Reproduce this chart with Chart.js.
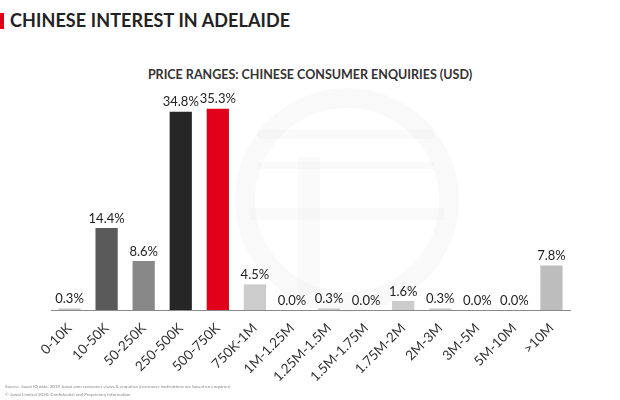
<!DOCTYPE html>
<html>
<head>
<meta charset="utf-8">
<script src="https://cdn.jsdelivr.net/npm/chart.js@4.4.1/dist/chart.umd.min.js"></script>
<style>
  body { margin: 0; background: #fff; font-family: Lato, "Open Sans", sans-serif; }
  #wrap { position: relative; width: 620px; height: 400px; overflow: hidden; }
  #chart { position: absolute; left: 0; top: 0; }
  .head { position: absolute; left: 10px; top: 9px; font-size: 18px; font-weight: 700; color: #222; letter-spacing: 0.1px; }
  .redmark { position: absolute; left: 0; top: 13px; width: 4px; height: 16px; background: #e1001a; }
  .sub { position: absolute; left: 0; width: 620px; top: 67px; text-align: center; font-size: 12.5px; font-weight: 700; color: #333; }
  .foot { position: absolute; left: 5px; font-size: 4.5px; color: #888; }
</style>
</head>
<body>
<div id="wrap">
  <div class="redmark"></div>
  <div class="head">CHINESE INTEREST IN ADELAIDE</div>
  <div class="sub">PRICE RANGES: CHINESE CONSUMER ENQUIRIES (USD)</div>
  <canvas id="chart" width="620" height="400"></canvas>
  <div class="foot" style="top:384px">Source: Juwai IQ data, 2019 Juwai.com consumer views &amp; enquiries (consumer motivations are based on enquiries)</div>
  <div class="foot" style="top:392px">© Juwai Limited 2020. Confidential and Proprietary Information</div>
</div>
<script>
// Tranches de prix et parts des demandes (%)
const priceRanges = ['0-10K', '10-50K', '50-250K', '250-500K', '500-750K', '750K-1M', '1M-1.25M',
  '1.25M-1.5M', '1.5M-1.75M', '1.75M-2M', '2M-3M', '3M-5M', '5M-10M', '>10M'];
const enquiryShare = [0.3, 14.4, 8.6, 34.8, 35.3, 4.5, 0.0, 0.3, 0.0, 1.6, 0.3, 0.0, 0.0, 7.8];
const barColors = ['#c6c6c6', '#5a5a5a', '#888888', '#262626', '#e1001a', '#cccccc', '#cccccc',
  '#cccccc', '#cccccc', '#cccccc', '#cccccc', '#cccccc', '#cccccc', '#bdbdbd'];

// Filigrane du logo en arrière-plan
const watermark = {
  id: 'watermark',
  beforeDraw(chart) {
    const ctx = chart.ctx;
    ctx.save();
    ctx.strokeStyle = 'rgba(0,0,0,0.025)';
    ctx.lineWidth = 20;
    ctx.beginPath();
    ctx.arc(347, 200, 102, 0, Math.PI * 2);
    ctx.stroke();
    ctx.fillStyle = 'rgba(0,0,0,0.02)';
    ctx.fillRect(258, 130, 176, 9);
    ctx.fillRect(258, 162, 176, 7);
    ctx.fillRect(250, 208, 194, 12);
    ctx.fillRect(298, 157, 22, 136);
    ctx.restore();
  }
};

// Valeurs au-dessus des barres
const valueLabels = {
  id: 'valueLabels',
  afterDatasetsDraw(chart) {
    const ctx = chart.ctx;
    const meta = chart.getDatasetMeta(0);
    ctx.save();
    ctx.font = '13px Lato, "Open Sans", sans-serif';
    ctx.fillStyle = '#222';
    ctx.textAlign = 'center';
    ctx.textBaseline = 'bottom';
    meta.data.forEach((bar, i) => {
      ctx.fillText(enquiryShare[i].toFixed(1) + '%', bar.x, bar.y - 3);
    });
    ctx.restore();
  }
};

new Chart(document.getElementById('chart'), {
  type: 'bar',
  data: {
    labels: priceRanges,
    datasets: [{
      data: enquiryShare,
      backgroundColor: barColors,
      barPercentage: 0.6,
      categoryPercentage: 1.0
    }]
  },
  options: {
    responsive: false,
    animation: false,
    layout: { padding: { left: 51, right: 50, top: 82, bottom: 5 } },
    plugins: { legend: { display: false }, tooltip: { enabled: false } },
    scales: {
      x: {
        grid: { display: true, color: 'rgba(0,0,0,0)', drawTicks: false },
        border: { display: true, color: '#8a8a8a', width: 1 },
        ticks: {
          autoSkip: false,
          maxRotation: 45,
          minRotation: 45,
          padding: 10,
          color: '#333',
          font: { family: 'Lato, "Open Sans", sans-serif', size: 13.5 }
        }
      },
      y: {
        display: false,
        min: 0,
        max: 40
      }
    }
  },
  plugins: [watermark, valueLabels]
});
</script>
</body>
</html>
